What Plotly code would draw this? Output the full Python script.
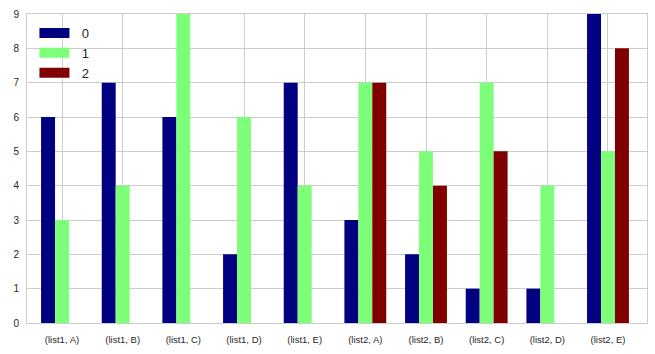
import plotly.graph_objects as go

categories = ["(list1, A)", "(list1, B)", "(list1, C)", "(list1, D)", "(list1, E)",
              "(list2, A)", "(list2, B)", "(list2, C)", "(list2, D)", "(list2, E)"]
series_names = ["0", "1", "2"]
s0 = [6, 7, 6, 2, 7, 3, 2, 1, 1, 9]
s1 = [3, 4, 9, 6, 4, 7, 5, 7, 4, 5]
s2 = [0, 0, 0, 0, 0, 7, 4, 5, 0, 8]
colors = ["#000080", "#7dff7a", "#800000"]

fig = go.Figure()
for name, vals, c in zip(series_names, [s0, s1, s2], colors):
    fig.add_trace(go.Bar(x=list(range(len(categories))), y=vals, name=name,
                         marker=dict(color=c, line=dict(width=0)),
                         showlegend=False))
# legend proxies (wide rectangles like the reference)
for name, c in zip(series_names, colors):
    fig.add_trace(go.Scatter(x=[None], y=[None], mode="lines", name="  " + name,
                             line=dict(color=c, width=10)))

fig.update_layout(
    width=655, height=354,
    margin=dict(l=27, r=8, t=14, b=31),
    barmode="group", bargap=0.31, bargroupgap=0,
    plot_bgcolor="white", paper_bgcolor="white",
    font=dict(family="Liberation Sans, Arial", color="#262626"),
    legend=dict(x=0.012, y=0.987, xanchor="left", yanchor="top",
                bgcolor="rgba(0,0,0,0)", font=dict(size=13),
                itemwidth=30, tracegroupgap=0),
    showlegend=True,
)
fig.update_xaxes(range=[-0.577, 9.643], tickmode="array",
                 tickvals=list(range(len(categories))), ticktext=categories,
                 tickfont=dict(size=9.5), showgrid=True, gridcolor="#cccccc",
                 showline=True, linecolor="#cccccc", mirror=True, ticks="",
                 zeroline=False, ticklabelstandoff=8)
fig.update_yaxes(range=[0, 9], dtick=1, tickfont=dict(size=10),
                 showgrid=True, gridcolor="#cccccc", showline=True,
                 linecolor="#cccccc", mirror=True, ticks="", zeroline=False,
                 ticklabelstandoff=5)

fig.write_html("out.html")
